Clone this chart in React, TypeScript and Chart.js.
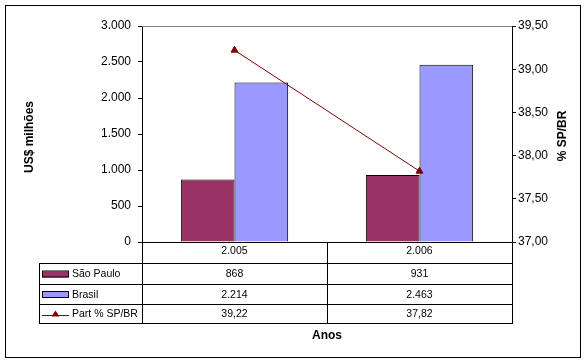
import React, { useEffect, useRef } from "react";
import { Chart, registerables } from "chart.js";

Chart.register(...registerables);

const categories = ["2.005", "2.006"];
const saoPaulo = [868, 931];
const brasil = [2214, 2463];
const partSPBR = [39.22, 37.82];
const seriesNames = ["São Paulo", "Brasil", "Part % SP/BR"];
const leftTitle = "US$ milhões";
const rightTitle = "% SP/BR";
const xTitle = "Anos";

const FONT = "'Liberation Sans', Arial, sans-serif";
const COL_SP = "#993366";
const COL_BR = "#9999FF";
const COL_LINE = "#800000";

function fmtInt(v: number) {
  return String(Math.round(v)).replace(/\B(?=(\d{3})+(?!\d))/g, ".");
}
function fmtDec(v: number) {
  return v.toFixed(2).replace(".", ",");
}

const tablePlugin = {
  id: "tablePlugin",
  afterDraw(chart: any) {
    const ctx = chart.ctx as CanvasRenderingContext2D;
    const area = chart.chartArea;
    const xs = chart.scales.x;
    ctx.save();
    // outer frame
    ctx.strokeStyle = "#000";
    ctx.lineWidth = 1;
    ctx.strokeRect(5.5, 5.5, 575, 352);
    // top gray line of plot area
    ctx.strokeStyle = "#808080";
    ctx.beginPath();
    ctx.moveTo(area.left, Math.round(area.top) + 0.5);
    ctx.lineTo(area.right, Math.round(area.top) + 0.5);
    ctx.stroke();

    // table
    const tableLeft = 39;
    const rows = [263, 284, 304, 323];
    const bottom = rows[rows.length - 1];
    const mid = (xs.getPixelForValue(0) + xs.getPixelForValue(1)) / 2;
    const vlines = [area.left, mid, area.right];
    ctx.strokeStyle = "#000";
    ctx.beginPath();
    for (const y of rows) {
      ctx.moveTo(tableLeft, y + 0.5);
      ctx.lineTo(Math.round(area.right) + 0.5, y + 0.5);
    }
    ctx.moveTo(tableLeft + 0.5, rows[0]);
    ctx.lineTo(tableLeft + 0.5, bottom + 1);
    for (const x of vlines) {
      const xx = Math.round(x) + 0.5;
      ctx.moveTo(xx, area.bottom);
      ctx.lineTo(xx, bottom + 1);
    }
    ctx.stroke();

    const values = [saoPaulo.map(fmtInt), brasil.map(fmtInt), partSPBR.map(fmtDec)];
    ctx.font = "10.5px " + FONT;
    ctx.fillStyle = "#000";
    ctx.textBaseline = "middle";
    for (let r = 0; r < 3; r++) {
      const cy = (rows[r] + rows[r + 1]) / 2 + 1;
      // key
      if (r < 2) {
        ctx.fillStyle = r === 0 ? COL_SP : COL_BR;
        ctx.fillRect(42, cy - 3, 26, 6);
        ctx.strokeStyle = "#000";
        ctx.strokeRect(42.5, cy - 3.5, 26, 6);
      } else {
        ctx.strokeStyle = COL_LINE;
        ctx.beginPath();
        ctx.moveTo(42, Math.round(cy) + 0.5);
        ctx.lineTo(69, Math.round(cy) + 0.5);
        ctx.stroke();
        ctx.fillStyle = COL_LINE;
        ctx.beginPath();
        ctx.moveTo(55.5, cy - 4);
        ctx.lineTo(59.5, cy + 2);
        ctx.lineTo(51.5, cy + 2);
        ctx.closePath();
        ctx.fill();
      }
      ctx.fillStyle = "#000";
      ctx.textAlign = "left";
      ctx.fillText(seriesNames[r], 72, cy);
      ctx.textAlign = "center";
      for (let c = 0; c < categories.length; c++) {
        ctx.fillText(values[r][c], xs.getPixelForValue(c), cy);
      }
    }

    // titles
    ctx.font = "bold 12px " + FONT;
    ctx.textAlign = "center";
    ctx.textBaseline = "middle";
    ctx.fillText(xTitle, (area.left + area.right) / 2, 336);
    ctx.save();
    ctx.translate(30, 137);
    ctx.rotate(-Math.PI / 2);
    ctx.fillText(leftTitle, 0, 0);
    ctx.restore();
    ctx.save();
    ctx.translate(563, 136);
    ctx.rotate(-Math.PI / 2);
    ctx.fillText(rightTitle, 0, 0);
    ctx.restore();
    ctx.restore();
  },
};

export default function App() {
  const ref = useRef<HTMLCanvasElement | null>(null);
  useEffect(() => {
    if (!ref.current) return;
    const xFont = { family: FONT, size: 10.5 };
    const yFont = { family: FONT, size: 12 };
    const chart = new Chart(ref.current, {
      type: "bar",
      data: {
        labels: categories,
        datasets: [
          {
            type: "bar",
            label: seriesNames[0],
            data: saoPaulo,
            backgroundColor: COL_SP,
            borderColor: "#000",
            borderWidth: 1,
            yAxisID: "y",
            categoryPercentage: 0.58,
            barPercentage: 1,
            order: 1,
          },
          {
            type: "bar",
            label: seriesNames[1],
            data: brasil,
            backgroundColor: COL_BR,
            borderColor: "#000",
            borderWidth: 1,
            yAxisID: "y",
            categoryPercentage: 0.58,
            barPercentage: 1,
            order: 1,
          },
          {
            type: "line",
            label: seriesNames[2],
            data: partSPBR,
            borderColor: COL_LINE,
            backgroundColor: COL_LINE,
            borderWidth: 1,
            pointStyle: "triangle",
            pointRadius: 4,
            pointBackgroundColor: COL_LINE,
            pointBorderColor: COL_LINE,
            yAxisID: "y1",
            order: 0,
          },
        ],
      } as any,
      options: {
        responsive: false,
        animation: false,
        layout: { padding: { top: 26, left: 0, right: 0, bottom: 0 } },
        plugins: { legend: { display: false }, tooltip: { enabled: false }, title: { display: false } },
        scales: {
          x: {
            grid: { drawOnChartArea: false, drawTicks: false },
            border: { color: "#000", width: 1 },
            ticks: { font: xFont, color: "#000", padding: 3 },
            afterFit: (s: any) => {
              s.height = 121;
            },
          },
          y: {
            position: "left",
            min: 0,
            max: 3000,
            grid: { drawOnChartArea: false, drawTicks: true, tickLength: 4, tickColor: "#000" },
            border: { color: "#000", width: 1 },
            ticks: {
              stepSize: 500,
              font: yFont,
              color: "#000",
              padding: 7,
              callback: (v: any) => fmtInt(Number(v)),
            },
            afterFit: (s: any) => {
              s.width = 142;
            },
          },
          y1: {
            position: "right",
            min: 37,
            max: 39.5,
            grid: { drawOnChartArea: false, drawTicks: true, tickLength: 4, tickColor: "#000" },
            border: { color: "#000", width: 1 },
            ticks: {
              stepSize: 0.5,
              font: yFont,
              color: "#000",
              padding: 2,
              callback: (v: any) => fmtDec(Number(v)),
            },
            afterFit: (s: any) => {
              s.width = 76;
            },
          },
        },
      } as any,
      plugins: [tablePlugin],
    });
    return () => chart.destroy();
  }, []);
  return (
    <div style={{ position: "fixed", left: 0, top: 0, width: 588, height: 363, background: "#fff" }}>
      <canvas ref={ref} width={588} height={363} style={{ width: 588, height: 363, display: "block" }} />
    </div>
  );
}
